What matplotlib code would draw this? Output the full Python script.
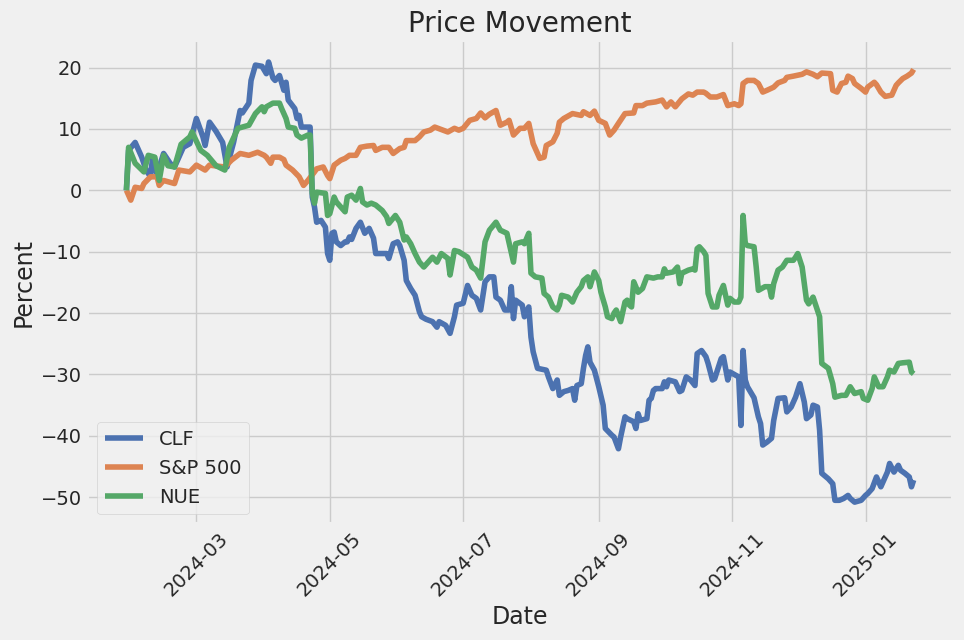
import matplotlib
matplotlib.use("Agg")
import matplotlib.pyplot as plt
import pandas as pd

# ---------------- data (percent change since start) ----------------
clf_dates = [
    "2024-01-29", "2024-01-30", "2024-02-02", "2024-02-05", "2024-02-07", "2024-02-09",
    "2024-02-10", "2024-02-12", "2024-02-15", "2024-02-18", "2024-02-20", "2024-02-24",
    "2024-02-27", "2024-03-01", "2024-03-04", "2024-03-05", "2024-03-07", "2024-03-10",
    "2024-03-13", "2024-03-15", "2024-03-18", "2024-03-21", "2024-03-22", "2024-03-25",
    "2024-03-26", "2024-03-28", "2024-03-31", "2024-04-02", "2024-04-03", "2024-04-05",
    "2024-04-06", "2024-04-08", "2024-04-09", "2024-04-10", "2024-04-11", "2024-04-12",
    "2024-04-15", "2024-04-16", "2024-04-17", "2024-04-18", "2024-04-22", "2024-04-23",
    "2024-04-24", "2024-04-25", "2024-04-27", "2024-04-29", "2024-04-30", "2024-05-01",
    "2024-05-02", "2024-05-03", "2024-05-04", "2024-05-06", "2024-05-08", "2024-05-09",
    "2024-05-10", "2024-05-11", "2024-05-13", "2024-05-15", "2024-05-17", "2024-05-19",
    "2024-05-21", "2024-05-22", "2024-05-27", "2024-05-28", "2024-05-30", "2024-06-01",
    "2024-06-02", "2024-06-04", "2024-06-05", "2024-06-07", "2024-06-09", "2024-06-11",
    "2024-06-12", "2024-06-14", "2024-06-17", "2024-06-19", "2024-06-20", "2024-06-23",
    "2024-06-25", "2024-06-27", "2024-06-28", "2024-07-01", "2024-07-03", "2024-07-05",
    "2024-07-07", "2024-07-09", "2024-07-11", "2024-07-13", "2024-07-15", "2024-07-16",
    "2024-07-18", "2024-07-20", "2024-07-22", "2024-07-23", "2024-07-24", "2024-07-25",
    "2024-07-28", "2024-07-29", "2024-07-31", "2024-08-01", "2024-08-02", "2024-08-04",
    "2024-08-08", "2024-08-09", "2024-08-11", "2024-08-13", "2024-08-14", "2024-08-16",
    "2024-08-18", "2024-08-20", "2024-08-21", "2024-08-22", "2024-08-24", "2024-08-25",
    "2024-08-26", "2024-08-27", "2024-08-28", "2024-08-30", "2024-09-01", "2024-09-03",
    "2024-09-04", "2024-09-07", "2024-09-08", "2024-09-10", "2024-09-11", "2024-09-13",
    "2024-09-14", "2024-09-17", "2024-09-18", "2024-09-19", "2024-09-20", "2024-09-23",
    "2024-09-24", "2024-09-25", "2024-09-26", "2024-09-27", "2024-09-30", "2024-10-01",
    "2024-10-02", "2024-10-03", "2024-10-06", "2024-10-08", "2024-10-09", "2024-10-11",
    "2024-10-13", "2024-10-15", "2024-10-16", "2024-10-18", "2024-10-20", "2024-10-21",
    "2024-10-23", "2024-10-24", "2024-10-25", "2024-10-27", "2024-10-28", "2024-10-30",
    "2024-10-31", "2024-11-04", "2024-11-05", "2024-11-06", "2024-11-07", "2024-11-08",
    "2024-11-11", "2024-11-13", "2024-11-14", "2024-11-15", "2024-11-17", "2024-11-19",
    "2024-11-20", "2024-11-22", "2024-11-25", "2024-11-26", "2024-11-28", "2024-11-30",
    "2024-12-02", "2024-12-04", "2024-12-05", "2024-12-07", "2024-12-08", "2024-12-10",
    "2024-12-11", "2024-12-12", "2024-12-15", "2024-12-17", "2024-12-18", "2024-12-20",
    "2024-12-22", "2024-12-24", "2024-12-25", "2024-12-27", "2024-12-30", "2025-01-01",
    "2025-01-02", "2025-01-04", "2025-01-06", "2025-01-08", "2025-01-09", "2025-01-11",
    "2025-01-12", "2025-01-14", "2025-01-16", "2025-01-17", "2025-01-19", "2025-01-21",
    "2025-01-22", "2025-01-23",
]
clf_values = [
    0.0, 6.5, 7.8, 5.4, 3.3, 2.2,
    5.4, 2.6, 6.0, 4.4, 3.8, 7.0,
    7.6, 11.7, 8.7, 7.3, 11.1, 9.6,
    7.8, 3.8, 7.8, 13.0, 12.6, 14.2,
    17.9, 20.4, 20.2, 19.0, 20.9, 18.3,
    17.9, 18.7, 17.5, 16.3, 17.6, 14.7,
    13.3, 11.7, 12.2, 10.3, 10.3, -1.1,
    -2.7, -5.2, -4.9, -6.0, -10.3, -11.4,
    -7.0, -6.8, -8.4, -9.0, -8.4, -8.4,
    -7.6, -8.0, -6.2, -5.2, -7.0, -6.2,
    -7.8, -10.3, -10.3, -11.1, -8.7, -8.4,
    -9.0, -11.4, -14.7, -16.0, -17.1, -19.8,
    -20.6, -21.0, -21.4, -22.3, -21.4, -22.0,
    -23.3, -20.6, -18.7, -18.4, -15.5, -17.1,
    -17.6, -19.5, -14.9, -14.1, -14.1, -17.4,
    -17.9, -19.5, -19.5, -15.7, -20.9, -17.9,
    -18.7, -20.6, -19.0, -23.9, -26.3, -29.0,
    -29.3, -30.4, -32.3, -30.9, -33.4, -32.8,
    -32.6, -32.3, -34.2, -31.8, -31.5, -29.0,
    -26.9, -25.5, -28.0, -29.3, -32.0, -35.0,
    -38.8, -39.9, -40.2, -42.1, -40.2, -36.9,
    -37.2, -37.7, -38.8, -36.4, -37.5, -37.2,
    -34.2, -33.9, -32.6, -32.3, -32.3, -31.2,
    -32.0, -30.9, -31.2, -32.8, -32.6, -30.4,
    -30.9, -31.8, -26.6, -26.1, -27.1, -28.2,
    -30.9, -30.7, -29.6, -27.4, -27.1, -30.9,
    -29.6, -30.4, -38.3, -26.1, -30.9, -32.0,
    -33.8, -36.9, -38.0, -41.5, -41.0, -40.4,
    -37.5, -33.9, -33.8, -36.1, -35.3, -33.7,
    -31.5, -34.5, -37.2, -36.6, -35.0, -35.3,
    -39.1, -46.1, -47.0, -47.8, -50.5, -50.5,
    -50.2, -49.7, -50.2, -50.8, -50.5, -49.7,
    -49.4, -48.6, -46.7, -48.3, -47.5, -45.9,
    -44.5, -45.9, -44.8, -45.6, -46.1, -46.7,
    -48.3, -47.2,
]

sp_dates = [
    "2024-01-29", "2024-01-31", "2024-02-02", "2024-02-05", "2024-02-06", "2024-02-09",
    "2024-02-12", "2024-02-13", "2024-02-15", "2024-02-20", "2024-02-22", "2024-02-27",
    "2024-03-01", "2024-03-05", "2024-03-07", "2024-03-14", "2024-03-17", "2024-03-21",
    "2024-03-25", "2024-03-29", "2024-04-01", "2024-04-02", "2024-04-04", "2024-04-05",
    "2024-04-08", "2024-04-10", "2024-04-11", "2024-04-14", "2024-04-17", "2024-04-19",
    "2024-04-21", "2024-04-24", "2024-04-25", "2024-04-28", "2024-04-30", "2024-05-01",
    "2024-05-03", "2024-05-06", "2024-05-08", "2024-05-10", "2024-05-13", "2024-05-15",
    "2024-05-18", "2024-05-21", "2024-05-22", "2024-05-25", "2024-05-28", "2024-05-30",
    "2024-06-02", "2024-06-04", "2024-06-05", "2024-06-09", "2024-06-11", "2024-06-13",
    "2024-06-16", "2024-06-18", "2024-06-21", "2024-06-24", "2024-06-27", "2024-06-29",
    "2024-07-01", "2024-07-04", "2024-07-07", "2024-07-09", "2024-07-11", "2024-07-13",
    "2024-07-16", "2024-07-18", "2024-07-21", "2024-07-22", "2024-07-24", "2024-07-27",
    "2024-07-29", "2024-07-31", "2024-08-02", "2024-08-05", "2024-08-07", "2024-08-08",
    "2024-08-11", "2024-08-13", "2024-08-14", "2024-08-16", "2024-08-20", "2024-08-24",
    "2024-08-25", "2024-08-28", "2024-08-30", "2024-09-01", "2024-09-04", "2024-09-06",
    "2024-09-08", "2024-09-10", "2024-09-13", "2024-09-17", "2024-09-18", "2024-09-21",
    "2024-09-23", "2024-09-27", "2024-09-30", "2024-10-02", "2024-10-04", "2024-10-06",
    "2024-10-09", "2024-10-12", "2024-10-14", "2024-10-16", "2024-10-19", "2024-10-20",
    "2024-10-22", "2024-10-25", "2024-10-28", "2024-10-30", "2024-11-02", "2024-11-04",
    "2024-11-05", "2024-11-06", "2024-11-08", "2024-11-11", "2024-11-13", "2024-11-15",
    "2024-11-17", "2024-11-20", "2024-11-22", "2024-11-25", "2024-11-26", "2024-11-29",
    "2024-12-03", "2024-12-05", "2024-12-08", "2024-12-10", "2024-12-12", "2024-12-16",
    "2024-12-17", "2024-12-19", "2024-12-21", "2024-12-23", "2024-12-24", "2024-12-26",
    "2024-12-27", "2024-12-30", "2025-01-01", "2025-01-02", "2025-01-05", "2025-01-06",
    "2025-01-08", "2025-01-10", "2025-01-13", "2025-01-15", "2025-01-16", "2025-01-18",
    "2025-01-20", "2025-01-22", "2025-01-23",
]
sp_values = [
    0.0, -1.6, 0.5, 0.3, 1.1, 2.2,
    2.2, 0.8, 1.6, 1.1, 3.3, 3.0,
    4.1, 3.3, 4.1, 3.8, 4.9, 6.0,
    5.7, 6.2, 5.7, 5.4, 4.4, 5.4,
    5.4, 5.0, 4.1, 3.3, 2.2, 0.8,
    1.6, 3.0, 3.5, 3.8, 2.4, 1.9,
    4.1, 4.9, 5.2, 5.7, 5.7, 7.0,
    7.2, 7.3, 6.5, 7.0, 7.0, 6.0,
    6.8, 7.0, 8.1, 8.1, 8.7, 9.5,
    9.8, 10.3, 9.9, 9.5, 10.1, 9.8,
    10.1, 11.4, 11.7, 12.6, 11.8, 12.4,
    13.0, 10.6, 11.1, 11.4, 9.0, 10.1,
    10.1, 10.9, 7.6, 5.2, 5.4, 7.3,
    7.9, 9.3, 11.1, 11.7, 12.5, 12.2,
    12.8, 12.2, 12.9, 11.4, 10.9, 9.0,
    9.8, 10.9, 12.5, 12.6, 13.8, 13.8,
    14.2, 14.4, 14.7, 13.6, 14.4, 13.6,
    14.9, 15.7, 15.5, 16.0, 16.0, 15.8,
    15.2, 15.2, 15.6, 13.8, 14.1, 13.8,
    14.1, 17.4, 17.9, 17.9, 17.4, 16.0,
    16.3, 16.8, 17.5, 17.9, 18.4, 18.6,
    18.9, 19.3, 18.9, 18.5, 19.1, 19.0,
    16.3, 16.0, 17.4, 17.6, 18.6, 18.2,
    17.4, 16.6, 16.0, 16.8, 17.6, 17.2,
    16.0, 15.3, 15.5, 17.1, 17.5, 18.2,
    18.6, 19.1, 19.7,
]

nue_dates = [
    "2024-01-29", "2024-01-30", "2024-02-02", "2024-02-06", "2024-02-08", "2024-02-11",
    "2024-02-13", "2024-02-15", "2024-02-17", "2024-02-20", "2024-02-23", "2024-02-27",
    "2024-02-28", "2024-03-03", "2024-03-06", "2024-03-10", "2024-03-14", "2024-03-16",
    "2024-03-20", "2024-03-25", "2024-03-28", "2024-03-31", "2024-04-01", "2024-04-02",
    "2024-04-05", "2024-04-08", "2024-04-09", "2024-04-11", "2024-04-12", "2024-04-15",
    "2024-04-16", "2024-04-18", "2024-04-21", "2024-04-22", "2024-04-23", "2024-04-24",
    "2024-04-25", "2024-04-29", "2024-04-30", "2024-05-01", "2024-05-03", "2024-05-04",
    "2024-05-06", "2024-05-08", "2024-05-09", "2024-05-11", "2024-05-13", "2024-05-15",
    "2024-05-16", "2024-05-18", "2024-05-20", "2024-05-22", "2024-05-25", "2024-05-27",
    "2024-05-28", "2024-05-31", "2024-06-02", "2024-06-04", "2024-06-05", "2024-06-07",
    "2024-06-09", "2024-06-11", "2024-06-13", "2024-06-15", "2024-06-17", "2024-06-19",
    "2024-06-21", "2024-06-24", "2024-06-25", "2024-06-27", "2024-06-29", "2024-07-03",
    "2024-07-05", "2024-07-07", "2024-07-09", "2024-07-11", "2024-07-13", "2024-07-16",
    "2024-07-18", "2024-07-21", "2024-07-24", "2024-07-25", "2024-07-28", "2024-07-29",
    "2024-07-31", "2024-08-01", "2024-08-03", "2024-08-06", "2024-08-07", "2024-08-09",
    "2024-08-11", "2024-08-13", "2024-08-14", "2024-08-15", "2024-08-18", "2024-08-20",
    "2024-08-22", "2024-08-24", "2024-08-25", "2024-08-27", "2024-08-28", "2024-08-30",
    "2024-09-01", "2024-09-02", "2024-09-04", "2024-09-05", "2024-09-07", "2024-09-08",
    "2024-09-09", "2024-09-11", "2024-09-13", "2024-09-14", "2024-09-15", "2024-09-16",
    "2024-09-17", "2024-09-19", "2024-09-21", "2024-09-23", "2024-09-26", "2024-09-28",
    "2024-09-30", "2024-10-01", "2024-10-02", "2024-10-05", "2024-10-07", "2024-10-08",
    "2024-10-09", "2024-10-12", "2024-10-14", "2024-10-15", "2024-10-16", "2024-10-17",
    "2024-10-19", "2024-10-20", "2024-10-21", "2024-10-23", "2024-10-25", "2024-10-26",
    "2024-10-28", "2024-10-30", "2024-10-31", "2024-11-02", "2024-11-04", "2024-11-05",
    "2024-11-06", "2024-11-07", "2024-11-08", "2024-11-11", "2024-11-12", "2024-11-13",
    "2024-11-16", "2024-11-18", "2024-11-19", "2024-11-20", "2024-11-22", "2024-11-24",
    "2024-11-26", "2024-11-29", "2024-11-30", "2024-12-01", "2024-12-03", "2024-12-05",
    "2024-12-06", "2024-12-08", "2024-12-11", "2024-12-12", "2024-12-15", "2024-12-17",
    "2024-12-18", "2024-12-21", "2024-12-23", "2024-12-25", "2024-12-27", "2024-12-30",
    "2024-12-31", "2025-01-02", "2025-01-04", "2025-01-05", "2025-01-07", "2025-01-09",
    "2025-01-11", "2025-01-12", "2025-01-14", "2025-01-16", "2025-01-18", "2025-01-21",
    "2025-01-22", "2025-01-23",
]
nue_values = [
    0.0, 7.0, 4.4, 3.0, 5.7, 5.4,
    1.6, 5.7, 4.0, 3.8, 7.5, 8.7,
    9.5, 6.5, 5.7, 4.0, 3.3, 7.0,
    10.1, 10.6, 12.5, 13.6, 12.8, 13.6,
    14.2, 14.2, 13.3, 11.7, 10.3, 10.1,
    9.0, 8.5, 9.0, 9.0, -0.5, -2.1,
    -0.3, -0.5, -4.1, -3.8, -1.1, -1.9,
    -2.7, -3.5, -1.1, -0.8, -1.6, 0.3,
    -1.9, -2.4, -2.1, -2.4, -3.3, -4.3,
    -5.4, -4.1, -5.2, -8.1, -7.6, -8.7,
    -10.3, -11.7, -12.5, -11.7, -10.9, -11.7,
    -10.3, -11.1, -13.8, -9.8, -10.0, -10.9,
    -12.5, -13.0, -14.3, -8.4, -6.5, -5.2,
    -6.5, -7.0, -11.7, -8.7, -8.4, -8.7,
    -7.0, -13.5, -14.1, -14.3, -16.8, -17.4,
    -19.0, -19.5, -18.7, -17.1, -17.4, -18.2,
    -16.6, -15.7, -14.7, -14.1, -15.7, -13.3,
    -14.7, -16.6, -19.0, -20.6, -20.9, -20.0,
    -19.5, -21.4, -18.2, -17.9, -18.7, -19.0,
    -14.9, -16.6, -16.0, -14.1, -14.3, -14.1,
    -14.1, -12.8, -13.5, -13.3, -12.5, -15.2,
    -13.5, -13.0, -12.8, -13.0, -9.5, -9.2,
    -10.0, -10.6, -16.8, -19.0, -19.0, -17.1,
    -15.5, -18.7, -17.6, -18.2, -18.2, -17.4,
    -4.1, -8.7, -9.0, -9.2, -12.5, -16.3,
    -15.7, -15.7, -17.4, -15.2, -13.0, -12.5,
    -11.4, -11.4, -10.9, -10.3, -12.5, -17.9,
    -18.5, -17.4, -20.6, -28.2, -29.0, -31.5,
    -33.7, -33.4, -33.4, -32.0, -33.1, -32.8,
    -33.9, -34.2, -32.3, -30.4, -32.0, -32.0,
    -30.4, -29.3, -29.6, -28.2, -28.1, -28.0,
    -29.6, -29.9,
]

series_names = ["CLF", "S&P 500", "NUE"]
title_text = "Price Movement"
x_label = "Date"
y_label = "Percent"

# ---------------- plot ----------------
plt.style.use("fivethirtyeight")
text_color = "#262626"
plt.rcParams.update({
    "text.color": text_color,
    "axes.labelcolor": text_color,
    "xtick.color": text_color,
    "ytick.color": text_color,
})
colors = ["#4C72B0", "#DD8452", "#55A868"]

fig = plt.figure(figsize=(9.64, 6.4), dpi=100)
ax = fig.add_axes([0.0903, 0.181, 0.8983, 0.7565])

for name, d, v, c in zip(series_names,
                         [clf_dates, sp_dates, nue_dates],
                         [clf_values, sp_values, nue_values],
                         colors):
    ax.plot(pd.to_datetime(d), v, color=c, linewidth=4, label=name)

ax.set_title(title_text, fontsize=20, color=text_color)
ax.set_xlabel(x_label, fontsize=17)
ax.set_ylabel(y_label, fontsize=17)
ax.tick_params(axis="both", labelsize=14)
for lbl in ax.get_xticklabels():
    lbl.set_rotation(45)
ax.legend(loc="lower left", fontsize=14)

fig.savefig("out.png", dpi=100)
